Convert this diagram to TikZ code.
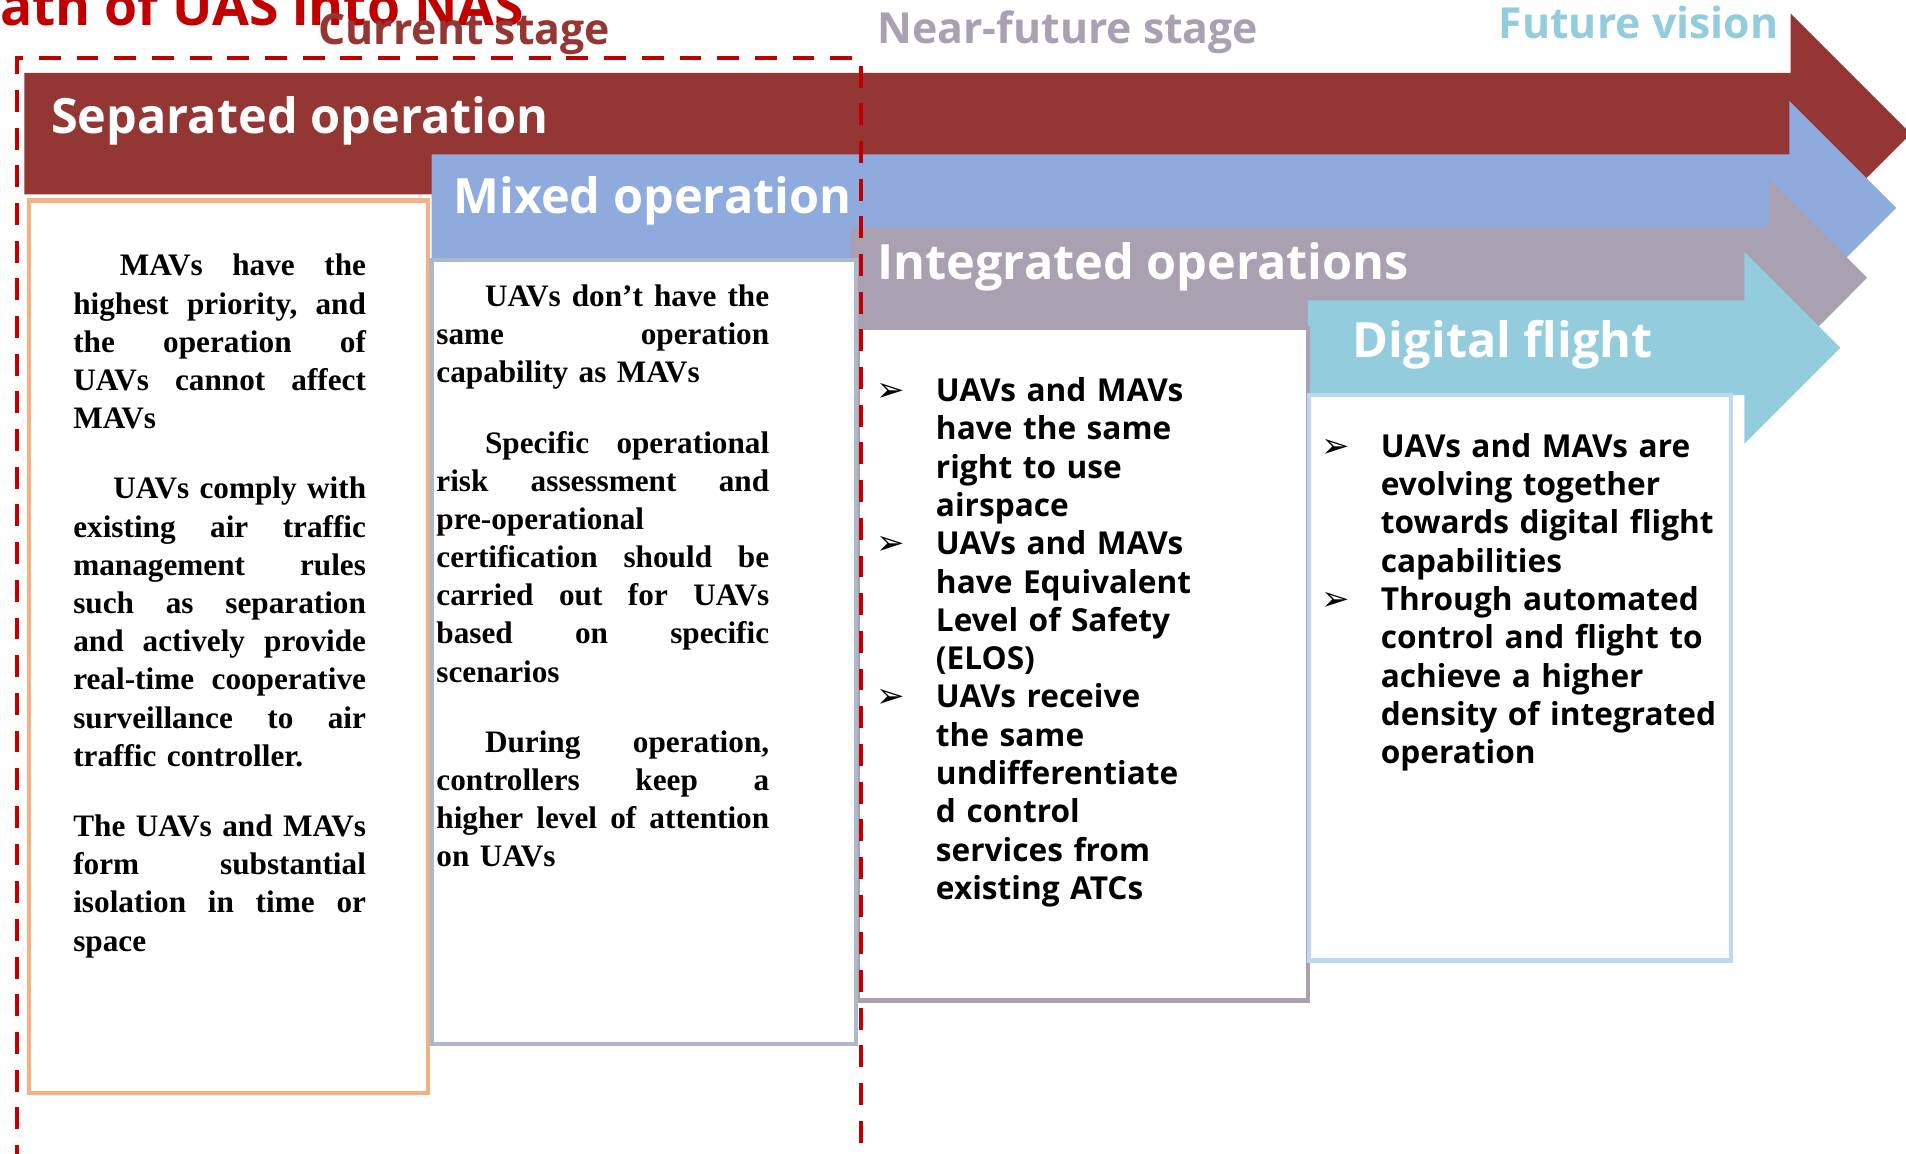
\documentclass[tikz,border=0pt]{standalone}
\usepackage{fontspec}
\setmainfont{Liberation Serif}
\newfontfamily\osans{Open Sans}
\newfontfamily\dejavu{DejaVu Sans}
\definecolor{sepred}{HTML}{943634}
\definecolor{mixblue}{HTML}{8FAADC}
\definecolor{intgrey}{HTML}{A9A1B1}
\definecolor{digblue}{HTML}{93CDDD}
\definecolor{orangeb}{HTML}{F4B183}
\definecolor{boxtwo}{HTML}{ADB9CA}
\definecolor{boxfour}{HTML}{BDD7EE}
\definecolor{dashred}{HTML}{C00000}
\newcommand\jla[1]{\makebox[120.4pt][l]{#1}}
\newcommand\jlb[1]{\makebox[136.9pt][l]{#1}}
\newcommand\sk{\hspace{0pt plus 1fill} }
\begin{document}
\begin{tikzpicture}[x=0.5pt,y=-0.5pt,
  lbl/.style={inner sep=0pt, outer sep=0pt, anchor=base west},
  arrowlbl/.style={lbl, text=white, font=\osans\bfseries\fontsize{20}{24}\selectfont},
  stagelbl/.style={lbl, font=\osans\bfseries\fontsize{17.6}{22}\selectfont},
  serifbox/.style={lbl, align=left, font=\bfseries\fontsize{12.85}{15.7}\selectfont},
  bulletbox/.style={lbl, align=left, text width=170pt, font=\osans\bfseries\fontsize{13}{15.75}\selectfont},
  bul/.style={lbl, font=\dejavu\fontsize{14}{16}\selectfont},
  panel/.style={fill=white, line width=1.8pt},
]
\useasboundingbox (0,0) rectangle (1568,949);
\clip (0,0) rectangle (1568,949);
% title and stage labels
\node[lbl, text=dashred, font=\osans\bfseries\fontsize{22}{27}\selectfont] (title) at (0,21) {ath of UAS into NAS};
\node[stagelbl, text=sepred] (cur) at (262,37) {Current stage};
\node[stagelbl, text=intgrey] (near) at (722,36) {Near-future stage};
\node[stagelbl, text=digblue] (fut) at (1233,32) {Future vision};
% arrows
\fill[sepred] (20,60) -- (1473,60) -- (1473,11) -- (1572,110) -- (1473,209) -- (1473,160) -- (20,160) -- cycle;
\fill[mixblue] (355,127) -- (1472,127) -- (1472,83) -- (1560,171) -- (1472,259) -- (1472,215) -- (355,215) -- cycle;
\fill[intgrey] (700,187) -- (1455,187) -- (1455,147) -- (1536,228.5) -- (1455,310) -- (1455,270) -- (700,270) -- cycle;
\fill[digblue] (1076,247) -- (1435,247) -- (1435,207) -- (1514,286) -- (1435,365) -- (1435,325) -- (1076,325) -- cycle;
% panels
\draw[panel, draw=orangeb] (24,165) rectangle (352,899);
\draw[panel, draw=intgrey] (706,270) rectangle (1076,823);
\draw[panel, draw=boxtwo] (355,214) rectangle (704,859);
\draw[panel, draw=boxfour] (1077,325) rectangle (1424,790);
% arrow labels
\node[arrowlbl] (sep) at (42,110) {Separated operation};
\node[arrowlbl] (mix) at (373,175.5) {Mixed operation};
\node[arrowlbl] (int) at (722,230) {Integrated operations};
\node[arrowlbl] (dig) at (1113,294.5) {Digital flight};
% box 1 text
\node[serifbox, text width=125pt] (t1) at (60.3,227) {%
\jla{\hspace*{19.2pt}MAVs\sk have\sk the}\\
\jla{highest\sk priority,\sk and}\\
\jla{the\sk operation\sk of}\\
\jla{UAVs\sk cannot\sk affect}\\
MAVs\\[13.25pt]
\jla{\hspace*{16.5pt}UAVs\sk comply\sk with}\\
\jla{existing\sk air\sk traffic}\\
\jla{management\sk rules}\\
\jla{such\sk as\sk separation}\\
\jla{and\sk actively\sk provide}\\
\jla{real-time\sk cooperative}\\
\jla{surveillance\sk to\sk air}\\
traffic controller.\\[13.25pt]
\jla{The\sk UAVs\sk and\sk MAVs}\\
\jla{form\sk substantial}\\
\jla{isolation\sk in\sk time\sk or}\\
space};
% box 2 text
\node[serifbox, text width=141pt] (t2) at (359,252) {%
\jlb{\hspace*{20pt}UAVs\sk don't\sk have\sk the}\\
\jlb{same\sk operation}\\
capability as MAVs\\[13.25pt]
\jlb{\hspace*{20pt}Specific\sk operational}\\
\jlb{risk\sk assessment\sk and}\\
pre-operational\\
\jlb{certification\sk should\sk be}\\
\jlb{carried\sk out\sk for\sk UAVs}\\
\jlb{based\sk on\sk specific}\\
scenarios\\[13.25pt]
\jlb{\hspace*{20pt}During\sk operation,}\\
\jlb{controllers\sk keep\sk a}\\
\jlb{higher\sk level\sk of\sk attention}\\
on UAVs};
% box 3 text
\node[bulletbox] (t3) at (770,330.4) {UAVs and MAVs\\ have the same\\ right to use\\ airspace\\
UAVs and MAVs\\ have Equivalent\\ Level of Safety\\ (ELOS)\\
UAVs receive\\ the same\\ undifferentiate\\ d control\\ services from\\ existing ATCs};
\node[bul] (b31) at (721,330.4) {➢};
\node[bul] (b32) at (721,456.4) {➢};
\node[bul] (b33) at (721,582.4) {➢};
% box 4 text
\node[bulletbox] (t4) at (1136,376.2) {UAVs and MAVs are\\ evolving together\\ towards digital flight\\ capabilities\\
Through automated\\ control and flight to\\ achieve a higher\\ density of integrated\\ operation};
\node[bul] (b41) at (1087,376.2) {➢};
\node[bul] (b42) at (1087,502.2) {➢};
% dashed frame
\draw[dashred, line width=1.6pt, dash pattern=on 9pt off 6.5pt] (14,960) -- (14,48) -- (708,48) -- (708,960);
\end{tikzpicture}
\end{document}
